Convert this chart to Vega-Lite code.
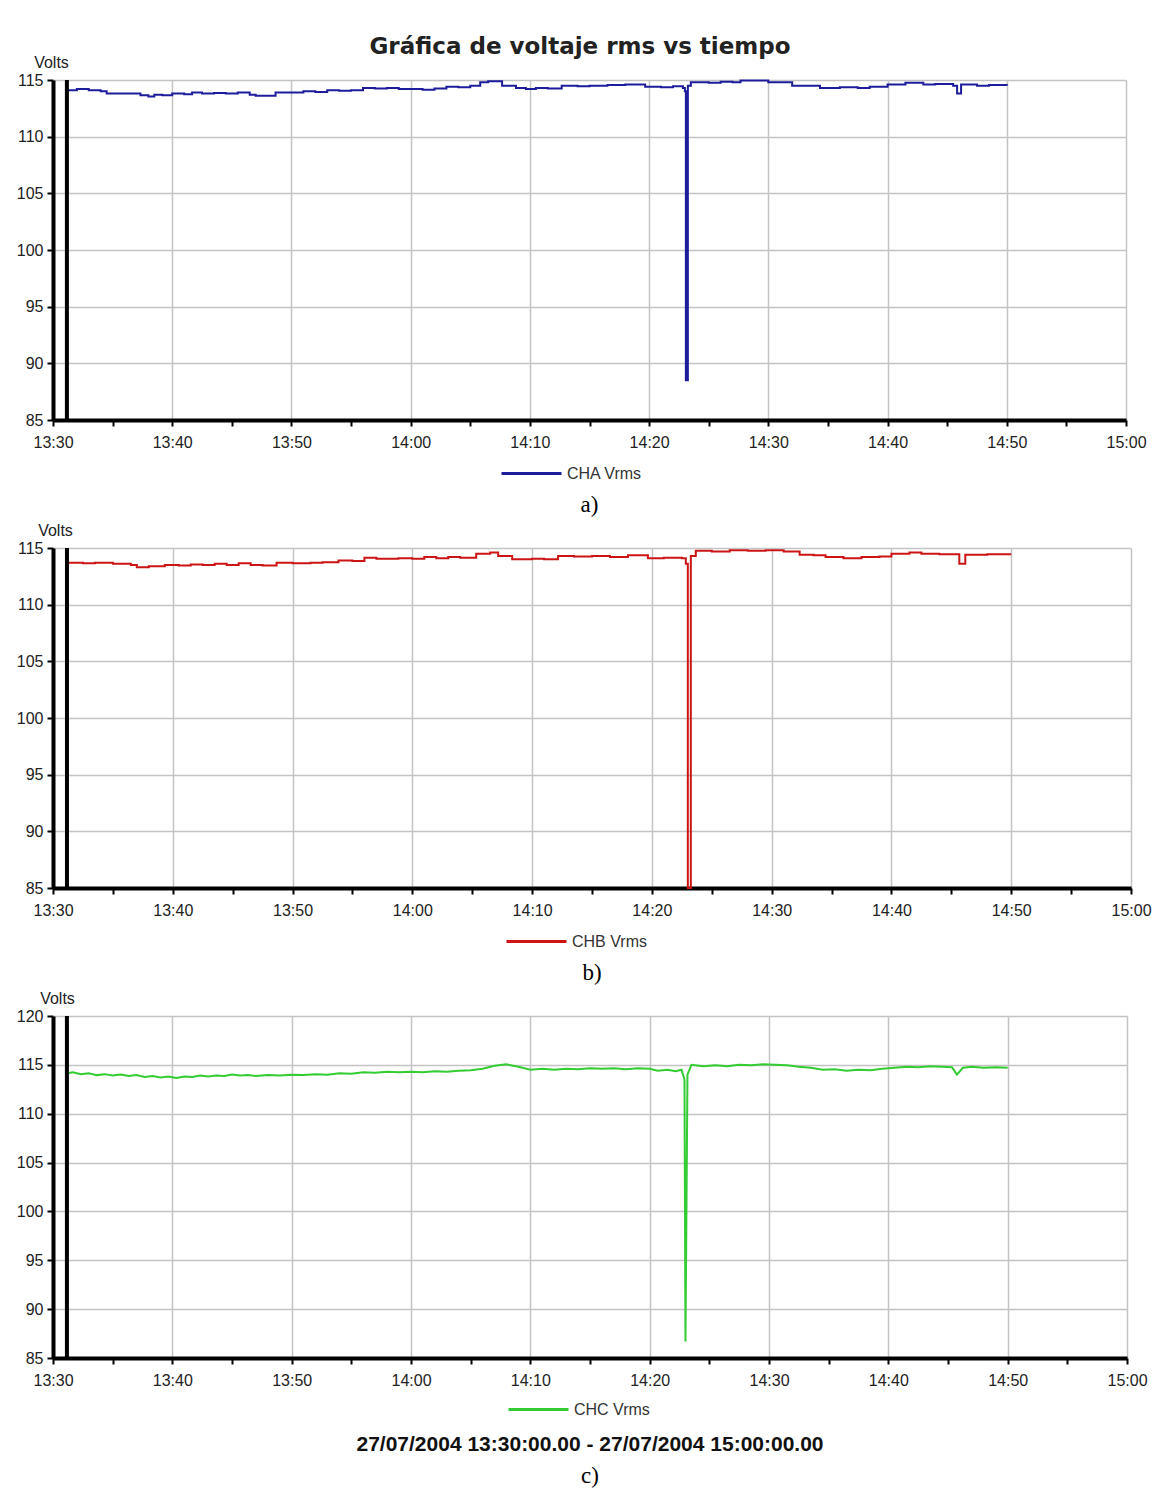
{
  "$schema": "https://vega.github.io/schema/vega-lite/v6.json",
  "background": "white",
  "padding": {"left": 9, "top": 36, "right": 10, "bottom": 0},
  "title": {"text": "Gráfica de voltaje rms vs tiempo", "font": "DejaVu Sans", "fontSize": 23, "fontWeight": "bold", "color": "#222", "anchor": "middle", "offset": -5},
  "spacing": 5,
  "datasets": {
    "cursora": [{"t": "13:31:10"}],
    "cursorb": [{"t": "13:31:10"}],
    "cursorc": [{"t": "13:31:10"}],
    "cha": [
      {"t": "13:31:00", "v": 114.1}, {"t": "13:32:00", "v": 114.2}, {"t": "13:33:00", "v": 114.1}, {"t": "13:34:00", "v": 114.0},
      {"t": "13:34:30", "v": 113.8}, {"t": "13:36:00", "v": 113.8}, {"t": "13:37:20", "v": 113.65}, {"t": "13:38:00", "v": 113.55},
      {"t": "13:38:30", "v": 113.7}, {"t": "13:39:10", "v": 113.65}, {"t": "13:40:00", "v": 113.8}, {"t": "13:41:00", "v": 113.75},
      {"t": "13:41:40", "v": 113.9}, {"t": "13:42:30", "v": 113.8}, {"t": "13:43:30", "v": 113.85}, {"t": "13:44:30", "v": 113.8},
      {"t": "13:45:30", "v": 113.9}, {"t": "13:46:30", "v": 113.7}, {"t": "13:47:00", "v": 113.6}, {"t": "13:48:40", "v": 113.9},
      {"t": "13:50:00", "v": 113.9}, {"t": "13:51:00", "v": 114.0}, {"t": "13:52:00", "v": 113.95}, {"t": "13:53:00", "v": 114.1},
      {"t": "13:54:00", "v": 114.05}, {"t": "13:55:00", "v": 114.1}, {"t": "13:56:00", "v": 114.3}, {"t": "13:57:00", "v": 114.25},
      {"t": "13:58:00", "v": 114.3}, {"t": "13:59:00", "v": 114.2}, {"t": "14:00:00", "v": 114.2}, {"t": "14:01:00", "v": 114.15},
      {"t": "14:02:00", "v": 114.25}, {"t": "14:03:00", "v": 114.4}, {"t": "14:04:00", "v": 114.35}, {"t": "14:05:00", "v": 114.5},
      {"t": "14:05:50", "v": 114.8}, {"t": "14:06:30", "v": 114.9}, {"t": "14:07:40", "v": 114.5}, {"t": "14:08:50", "v": 114.3},
      {"t": "14:09:40", "v": 114.2}, {"t": "14:10:30", "v": 114.3}, {"t": "14:11:30", "v": 114.25}, {"t": "14:12:40", "v": 114.5},
      {"t": "14:14:00", "v": 114.45}, {"t": "14:15:00", "v": 114.5}, {"t": "14:16:30", "v": 114.55}, {"t": "14:18:00", "v": 114.6},
      {"t": "14:19:40", "v": 114.4}, {"t": "14:21:00", "v": 114.35}, {"t": "14:22:00", "v": 114.45}, {"t": "14:22:50", "v": 114.3},
      {"t": "14:23:00", "v": 114.0}, {"t": "14:23:05", "v": 88.5}, {"t": "14:23:15", "v": 114.5}, {"t": "14:23:30", "v": 114.8},
      {"t": "14:25:00", "v": 114.75}, {"t": "14:26:00", "v": 114.85}, {"t": "14:27:00", "v": 114.8}, {"t": "14:27:40", "v": 114.95},
      {"t": "14:30:00", "v": 114.8}, {"t": "14:32:00", "v": 114.5}, {"t": "14:34:20", "v": 114.3}, {"t": "14:36:00", "v": 114.35},
      {"t": "14:37:30", "v": 114.3}, {"t": "14:38:30", "v": 114.4}, {"t": "14:40:00", "v": 114.6}, {"t": "14:41:30", "v": 114.75},
      {"t": "14:43:00", "v": 114.6}, {"t": "14:44:00", "v": 114.65}, {"t": "14:45:30", "v": 114.5}, {"t": "14:45:50", "v": 113.8},
      {"t": "14:46:10", "v": 114.6}, {"t": "14:47:30", "v": 114.5}, {"t": "14:48:30", "v": 114.55}, {"t": "14:50:00", "v": 114.5}
    ],
    "chb": [
      {"t": "13:31:00", "v": 113.7}, {"t": "13:32:30", "v": 113.65}, {"t": "13:33:30", "v": 113.7}, {"t": "13:35:00", "v": 113.6},
      {"t": "13:36:30", "v": 113.5}, {"t": "13:37:00", "v": 113.3}, {"t": "13:38:00", "v": 113.4}, {"t": "13:39:20", "v": 113.5},
      {"t": "13:40:30", "v": 113.45}, {"t": "13:41:30", "v": 113.55}, {"t": "13:42:30", "v": 113.5}, {"t": "13:43:30", "v": 113.6},
      {"t": "13:44:30", "v": 113.5}, {"t": "13:45:30", "v": 113.65}, {"t": "13:46:30", "v": 113.5}, {"t": "13:47:30", "v": 113.45},
      {"t": "13:48:40", "v": 113.7}, {"t": "13:50:00", "v": 113.65}, {"t": "13:51:30", "v": 113.7}, {"t": "13:52:30", "v": 113.75},
      {"t": "13:53:50", "v": 113.9}, {"t": "13:55:00", "v": 113.85}, {"t": "13:56:00", "v": 114.15}, {"t": "13:57:00", "v": 114.05},
      {"t": "13:58:50", "v": 114.1}, {"t": "14:00:00", "v": 114.05}, {"t": "14:01:00", "v": 114.2}, {"t": "14:02:00", "v": 114.1},
      {"t": "14:03:00", "v": 114.2}, {"t": "14:04:00", "v": 114.15}, {"t": "14:05:20", "v": 114.5}, {"t": "14:06:30", "v": 114.6},
      {"t": "14:07:10", "v": 114.3}, {"t": "14:08:20", "v": 114.0}, {"t": "14:10:00", "v": 114.05}, {"t": "14:11:00", "v": 114.0},
      {"t": "14:12:10", "v": 114.3}, {"t": "14:13:30", "v": 114.25}, {"t": "14:15:00", "v": 114.3}, {"t": "14:16:30", "v": 114.2},
      {"t": "14:18:00", "v": 114.35}, {"t": "14:19:40", "v": 114.1}, {"t": "14:21:00", "v": 114.15}, {"t": "14:22:30", "v": 114.1},
      {"t": "14:22:50", "v": 113.6}, {"t": "14:23:00", "v": 85}, {"t": "14:23:15", "v": 114.3}, {"t": "14:23:40", "v": 114.75},
      {"t": "14:25:00", "v": 114.7}, {"t": "14:26:30", "v": 114.8}, {"t": "14:28:00", "v": 114.75}, {"t": "14:29:30", "v": 114.8},
      {"t": "14:31:00", "v": 114.7}, {"t": "14:32:20", "v": 114.4}, {"t": "14:33:30", "v": 114.35}, {"t": "14:34:30", "v": 114.2},
      {"t": "14:36:00", "v": 114.1}, {"t": "14:37:30", "v": 114.2}, {"t": "14:39:00", "v": 114.25}, {"t": "14:40:00", "v": 114.5},
      {"t": "14:41:30", "v": 114.6}, {"t": "14:42:30", "v": 114.5}, {"t": "14:44:00", "v": 114.45}, {"t": "14:45:40", "v": 113.6},
      {"t": "14:46:10", "v": 114.4}, {"t": "14:48:00", "v": 114.45}, {"t": "14:50:00", "v": 114.45}
    ],
    "chc": [
      {"t": "13:31:00", "v": 114.1}, {"t": "13:31:40", "v": 114.25}, {"t": "13:32:20", "v": 114.05}, {"t": "13:33:00", "v": 114.15},
      {"t": "13:33:40", "v": 113.95}, {"t": "13:34:20", "v": 114.05}, {"t": "13:35:00", "v": 113.9}, {"t": "13:35:40", "v": 114.0},
      {"t": "13:36:20", "v": 113.85}, {"t": "13:37:00", "v": 113.95}, {"t": "13:37:40", "v": 113.75}, {"t": "13:38:20", "v": 113.85},
      {"t": "13:39:00", "v": 113.7}, {"t": "13:39:40", "v": 113.8}, {"t": "13:40:20", "v": 113.65}, {"t": "13:41:00", "v": 113.8},
      {"t": "13:41:40", "v": 113.75}, {"t": "13:42:20", "v": 113.9}, {"t": "13:43:00", "v": 113.8}, {"t": "13:43:40", "v": 113.9},
      {"t": "13:44:20", "v": 113.85}, {"t": "13:45:00", "v": 114.0}, {"t": "13:45:40", "v": 113.9}, {"t": "13:46:20", "v": 113.95},
      {"t": "13:47:00", "v": 113.85}, {"t": "13:48:00", "v": 113.95}, {"t": "13:49:00", "v": 113.9}, {"t": "13:50:00", "v": 114.0},
      {"t": "13:51:00", "v": 113.95}, {"t": "13:52:00", "v": 114.05}, {"t": "13:53:00", "v": 114.0}, {"t": "13:54:00", "v": 114.15},
      {"t": "13:55:00", "v": 114.1}, {"t": "13:56:00", "v": 114.25}, {"t": "13:57:00", "v": 114.2}, {"t": "13:58:00", "v": 114.3},
      {"t": "13:59:00", "v": 114.25}, {"t": "14:00:00", "v": 114.3}, {"t": "14:01:00", "v": 114.25}, {"t": "14:02:00", "v": 114.35},
      {"t": "14:03:00", "v": 114.3}, {"t": "14:04:00", "v": 114.4}, {"t": "14:05:00", "v": 114.45}, {"t": "14:06:00", "v": 114.6},
      {"t": "14:07:00", "v": 114.9}, {"t": "14:08:00", "v": 115.05}, {"t": "14:09:00", "v": 114.8}, {"t": "14:10:00", "v": 114.5},
      {"t": "14:11:00", "v": 114.6}, {"t": "14:12:00", "v": 114.5}, {"t": "14:13:00", "v": 114.6}, {"t": "14:14:00", "v": 114.55},
      {"t": "14:15:00", "v": 114.65}, {"t": "14:16:00", "v": 114.6}, {"t": "14:17:00", "v": 114.65}, {"t": "14:18:00", "v": 114.55},
      {"t": "14:19:00", "v": 114.65}, {"t": "14:20:00", "v": 114.6}, {"t": "14:20:40", "v": 114.4}, {"t": "14:21:30", "v": 114.5},
      {"t": "14:22:10", "v": 114.35}, {"t": "14:22:40", "v": 114.5}, {"t": "14:22:55", "v": 113.5}, {"t": "14:23:00", "v": 86.7},
      {"t": "14:23:10", "v": 114.0}, {"t": "14:23:30", "v": 115.0}, {"t": "14:24:30", "v": 114.85}, {"t": "14:25:30", "v": 114.95},
      {"t": "14:26:30", "v": 114.85}, {"t": "14:27:30", "v": 115.0}, {"t": "14:28:30", "v": 114.95}, {"t": "14:29:30", "v": 115.05},
      {"t": "14:30:30", "v": 115.0}, {"t": "14:31:30", "v": 114.95}, {"t": "14:32:30", "v": 114.8}, {"t": "14:33:30", "v": 114.7},
      {"t": "14:34:30", "v": 114.5}, {"t": "14:35:30", "v": 114.55}, {"t": "14:36:30", "v": 114.4}, {"t": "14:37:30", "v": 114.5},
      {"t": "14:38:30", "v": 114.45}, {"t": "14:39:30", "v": 114.6}, {"t": "14:40:30", "v": 114.7}, {"t": "14:41:30", "v": 114.8},
      {"t": "14:42:30", "v": 114.75}, {"t": "14:43:30", "v": 114.85}, {"t": "14:44:30", "v": 114.8}, {"t": "14:45:20", "v": 114.75},
      {"t": "14:45:45", "v": 114.0}, {"t": "14:46:15", "v": 114.7}, {"t": "14:47:00", "v": 114.8}, {"t": "14:48:00", "v": 114.7},
      {"t": "14:49:00", "v": 114.75}, {"t": "14:50:00", "v": 114.7}
    ]
  },
  "vconcat": [
    {
      "width": 1073, "height": 340,
      "title": {"text": "a)", "orient": "bottom", "font": "Liberation Serif", "fontSize": 23, "fontWeight": "normal", "color": "#000", "offset": 12, "anchor": "middle", "frame": "group"},
      "layer": [
        {
          "data": {"name": "cha", "format": {"parse": {"t": "utc:'%H:%M:%S'"}}},
          "mark": {"type": "line", "interpolate": "step-after", "strokeWidth": 2},
          "encoding": {
            "x": {"field": "t", "type": "temporal", "title": null,
              "scale": {"type": "utc", "domain": [{"year": 1900, "month": 1, "date": 1, "hours": 13, "minutes": 30, "utc": true}, {"year": 1900, "month": 1, "date": 1, "hours": 15, "minutes": 0, "utc": true}]},
              "axis": {"values": [
                {"year": 1900, "month": 1, "date": 1, "hours": 13, "minutes": 30, "utc": true},
                {"year": 1900, "month": 1, "date": 1, "hours": 13, "minutes": 35, "utc": true},
                {"year": 1900, "month": 1, "date": 1, "hours": 13, "minutes": 40, "utc": true},
                {"year": 1900, "month": 1, "date": 1, "hours": 13, "minutes": 45, "utc": true},
                {"year": 1900, "month": 1, "date": 1, "hours": 13, "minutes": 50, "utc": true},
                {"year": 1900, "month": 1, "date": 1, "hours": 13, "minutes": 55, "utc": true},
                {"year": 1900, "month": 1, "date": 1, "hours": 14, "minutes": 0, "utc": true},
                {"year": 1900, "month": 1, "date": 1, "hours": 14, "minutes": 5, "utc": true},
                {"year": 1900, "month": 1, "date": 1, "hours": 14, "minutes": 10, "utc": true},
                {"year": 1900, "month": 1, "date": 1, "hours": 14, "minutes": 15, "utc": true},
                {"year": 1900, "month": 1, "date": 1, "hours": 14, "minutes": 20, "utc": true},
                {"year": 1900, "month": 1, "date": 1, "hours": 14, "minutes": 25, "utc": true},
                {"year": 1900, "month": 1, "date": 1, "hours": 14, "minutes": 30, "utc": true},
                {"year": 1900, "month": 1, "date": 1, "hours": 14, "minutes": 35, "utc": true},
                {"year": 1900, "month": 1, "date": 1, "hours": 14, "minutes": 40, "utc": true},
                {"year": 1900, "month": 1, "date": 1, "hours": 14, "minutes": 45, "utc": true},
                {"year": 1900, "month": 1, "date": 1, "hours": 14, "minutes": 50, "utc": true},
                {"year": 1900, "month": 1, "date": 1, "hours": 14, "minutes": 55, "utc": true},
                {"year": 1900, "month": 1, "date": 1, "hours": 15, "minutes": 0, "utc": true}],
                "labelExpr": "utcminutes(datum.value) % 10 === 0 ? utcFormat(datum.value, '%H:%M') : ''", "labelOverlap": false, "labelFlush": false,
                "gridOpacity": {"condition": {"test": "utcminutes(datum.value) % 10 === 0", "value": 1}, "value": 0}}},
            "y": {"field": "v", "type": "quantitative", "scale": {"domain": [85, 115], "nice": false, "zero": false},
              "axis": {"values": [85, 90, 95, 100, 105, 110, 115], "title": "Volts", "titleAngle": 0, "titleAlign": "center", "titleBaseline": "bottom", "titleX": -2, "titleY": -10, "minExtent": 44, "maxExtent": 44}},
            "color": {"datum": "CHA Vrms", "type": "nominal", "scale": {"range": ["#1c1c9c"]}, "legend": {"orient": "none", "legendX": 447, "legendY": 362, "title": null, "symbolType": "stroke", "symbolSize": 3600, "symbolStrokeWidth": 3, "labelFontSize": 16, "labelColor": "#333", "padding": 0}}
          }
        },
        {
          "data": {"name": "cursora", "format": {"parse": {"t": "utc:'%H:%M:%S'"}}},
          "mark": {"type": "rule", "strokeWidth": 4, "color": "#000"},
          "encoding": {"x": {"field": "t", "type": "temporal"}}
        }
      ]
    },
    {
      "width": 1078, "height": 340,
      "title": {"text": "b)", "orient": "bottom", "font": "Liberation Serif", "fontSize": 23, "fontWeight": "normal", "color": "#000", "offset": 12, "anchor": "middle", "frame": "group"},
      "layer": [
        {
          "data": {"name": "chb", "format": {"parse": {"t": "utc:'%H:%M:%S'"}}},
          "mark": {"type": "line", "interpolate": "step-after", "strokeWidth": 2},
          "encoding": {
            "x": {"field": "t", "type": "temporal", "title": null,
              "scale": {"type": "utc", "domain": [{"year": 1900, "month": 1, "date": 1, "hours": 13, "minutes": 30, "utc": true}, {"year": 1900, "month": 1, "date": 1, "hours": 15, "minutes": 0, "utc": true}]},
              "axis": {"values": [
                {"year": 1900, "month": 1, "date": 1, "hours": 13, "minutes": 30, "utc": true},
                {"year": 1900, "month": 1, "date": 1, "hours": 13, "minutes": 35, "utc": true},
                {"year": 1900, "month": 1, "date": 1, "hours": 13, "minutes": 40, "utc": true},
                {"year": 1900, "month": 1, "date": 1, "hours": 13, "minutes": 45, "utc": true},
                {"year": 1900, "month": 1, "date": 1, "hours": 13, "minutes": 50, "utc": true},
                {"year": 1900, "month": 1, "date": 1, "hours": 13, "minutes": 55, "utc": true},
                {"year": 1900, "month": 1, "date": 1, "hours": 14, "minutes": 0, "utc": true},
                {"year": 1900, "month": 1, "date": 1, "hours": 14, "minutes": 5, "utc": true},
                {"year": 1900, "month": 1, "date": 1, "hours": 14, "minutes": 10, "utc": true},
                {"year": 1900, "month": 1, "date": 1, "hours": 14, "minutes": 15, "utc": true},
                {"year": 1900, "month": 1, "date": 1, "hours": 14, "minutes": 20, "utc": true},
                {"year": 1900, "month": 1, "date": 1, "hours": 14, "minutes": 25, "utc": true},
                {"year": 1900, "month": 1, "date": 1, "hours": 14, "minutes": 30, "utc": true},
                {"year": 1900, "month": 1, "date": 1, "hours": 14, "minutes": 35, "utc": true},
                {"year": 1900, "month": 1, "date": 1, "hours": 14, "minutes": 40, "utc": true},
                {"year": 1900, "month": 1, "date": 1, "hours": 14, "minutes": 45, "utc": true},
                {"year": 1900, "month": 1, "date": 1, "hours": 14, "minutes": 50, "utc": true},
                {"year": 1900, "month": 1, "date": 1, "hours": 14, "minutes": 55, "utc": true},
                {"year": 1900, "month": 1, "date": 1, "hours": 15, "minutes": 0, "utc": true}],
                "labelExpr": "utcminutes(datum.value) % 10 === 0 ? utcFormat(datum.value, '%H:%M') : ''", "labelOverlap": false, "labelFlush": false,
                "gridOpacity": {"condition": {"test": "utcminutes(datum.value) % 10 === 0", "value": 1}, "value": 0}}},
            "y": {"field": "v", "type": "quantitative", "scale": {"domain": [85, 115], "nice": false, "zero": false},
              "axis": {"values": [85, 90, 95, 100, 105, 110, 115], "title": "Volts", "titleAngle": 0, "titleAlign": "center", "titleBaseline": "bottom", "titleX": 2, "titleY": -10, "minExtent": 44, "maxExtent": 44}},
            "color": {"datum": "CHB Vrms", "type": "nominal", "scale": {"range": ["#cc1414"]}, "legend": {"orient": "none", "legendX": 452, "legendY": 362, "title": null, "symbolType": "stroke", "symbolSize": 3600, "symbolStrokeWidth": 3, "labelFontSize": 16, "labelColor": "#333", "padding": 0}}
          }
        },
        {
          "data": {"name": "cursorb", "format": {"parse": {"t": "utc:'%H:%M:%S'"}}},
          "mark": {"type": "rule", "strokeWidth": 4, "color": "#000"},
          "encoding": {"x": {"field": "t", "type": "temporal"}}
        }
      ]
    },
    {
      "width": 1074, "height": 342,
      "title": {"text": "27/07/2004 13:30:00.00 - 27/07/2004 15:00:00.00", "subtitle": "c)", "orient": "bottom", "font": "Liberation Sans", "fontSize": 21, "fontWeight": "bold", "color": "#111", "subtitleFont": "Liberation Serif", "subtitleFontSize": 23, "subtitleColor": "#000", "subtitlePadding": 10, "offset": 16, "anchor": "middle", "frame": "group"},
      "layer": [
        {
          "data": {"name": "chc", "format": {"parse": {"t": "utc:'%H:%M:%S'"}}},
          "mark": {"type": "line", "strokeWidth": 2},
          "encoding": {
            "x": {"field": "t", "type": "temporal", "title": null,
              "scale": {"type": "utc", "domain": [{"year": 1900, "month": 1, "date": 1, "hours": 13, "minutes": 30, "utc": true}, {"year": 1900, "month": 1, "date": 1, "hours": 15, "minutes": 0, "utc": true}]},
              "axis": {"values": [
                {"year": 1900, "month": 1, "date": 1, "hours": 13, "minutes": 30, "utc": true},
                {"year": 1900, "month": 1, "date": 1, "hours": 13, "minutes": 35, "utc": true},
                {"year": 1900, "month": 1, "date": 1, "hours": 13, "minutes": 40, "utc": true},
                {"year": 1900, "month": 1, "date": 1, "hours": 13, "minutes": 45, "utc": true},
                {"year": 1900, "month": 1, "date": 1, "hours": 13, "minutes": 50, "utc": true},
                {"year": 1900, "month": 1, "date": 1, "hours": 13, "minutes": 55, "utc": true},
                {"year": 1900, "month": 1, "date": 1, "hours": 14, "minutes": 0, "utc": true},
                {"year": 1900, "month": 1, "date": 1, "hours": 14, "minutes": 5, "utc": true},
                {"year": 1900, "month": 1, "date": 1, "hours": 14, "minutes": 10, "utc": true},
                {"year": 1900, "month": 1, "date": 1, "hours": 14, "minutes": 15, "utc": true},
                {"year": 1900, "month": 1, "date": 1, "hours": 14, "minutes": 20, "utc": true},
                {"year": 1900, "month": 1, "date": 1, "hours": 14, "minutes": 25, "utc": true},
                {"year": 1900, "month": 1, "date": 1, "hours": 14, "minutes": 30, "utc": true},
                {"year": 1900, "month": 1, "date": 1, "hours": 14, "minutes": 35, "utc": true},
                {"year": 1900, "month": 1, "date": 1, "hours": 14, "minutes": 40, "utc": true},
                {"year": 1900, "month": 1, "date": 1, "hours": 14, "minutes": 45, "utc": true},
                {"year": 1900, "month": 1, "date": 1, "hours": 14, "minutes": 50, "utc": true},
                {"year": 1900, "month": 1, "date": 1, "hours": 14, "minutes": 55, "utc": true},
                {"year": 1900, "month": 1, "date": 1, "hours": 15, "minutes": 0, "utc": true}],
                "labelExpr": "utcminutes(datum.value) % 10 === 0 ? utcFormat(datum.value, '%H:%M') : ''", "labelOverlap": false, "labelFlush": false,
                "gridOpacity": {"condition": {"test": "utcminutes(datum.value) % 10 === 0", "value": 1}, "value": 0}}},
            "y": {"field": "v", "type": "quantitative", "scale": {"domain": [85, 120], "nice": false, "zero": false},
              "axis": {"values": [85, 90, 95, 100, 105, 110, 115, 120], "title": "Volts", "titleAngle": 0, "titleAlign": "center", "titleBaseline": "bottom", "titleX": 4, "titleY": -10, "minExtent": 44, "maxExtent": 44}},
            "color": {"datum": "CHC Vrms", "type": "nominal", "scale": {"range": ["#33cc33"]}, "legend": {"orient": "none", "legendX": 454, "legendY": 362, "title": null, "symbolType": "stroke", "symbolSize": 3600, "symbolStrokeWidth": 3, "labelFontSize": 16, "labelColor": "#333", "padding": 0}}
          }
        },
        {
          "data": {"name": "cursorc", "format": {"parse": {"t": "utc:'%H:%M:%S'"}}},
          "mark": {"type": "rule", "strokeWidth": 4, "color": "#000"},
          "encoding": {"x": {"field": "t", "type": "temporal"}}
        }
      ]
    }
  ],
  "resolve": {"scale": {"color": "independent"}},
  "config": {
    "font": "Liberation Sans",
    "view": {"stroke": null},
    "axis": {"domainColor": "#000", "domainWidth": 4, "tickColor": "#000", "tickWidth": 2, "tickSize": 6, "gridColor": "#c4c4c4", "gridWidth": 1.5, "labelFont": "Liberation Sans", "labelFontSize": 16, "labelColor": "#222", "labelPadding": 8, "titleFont": "Liberation Sans", "titleFontSize": 16, "titleFontWeight": "normal", "titleColor": "#222"},
    "axisY": {"labelPadding": 4},
    "legend": {"labelFont": "Liberation Sans"}
  }
}
